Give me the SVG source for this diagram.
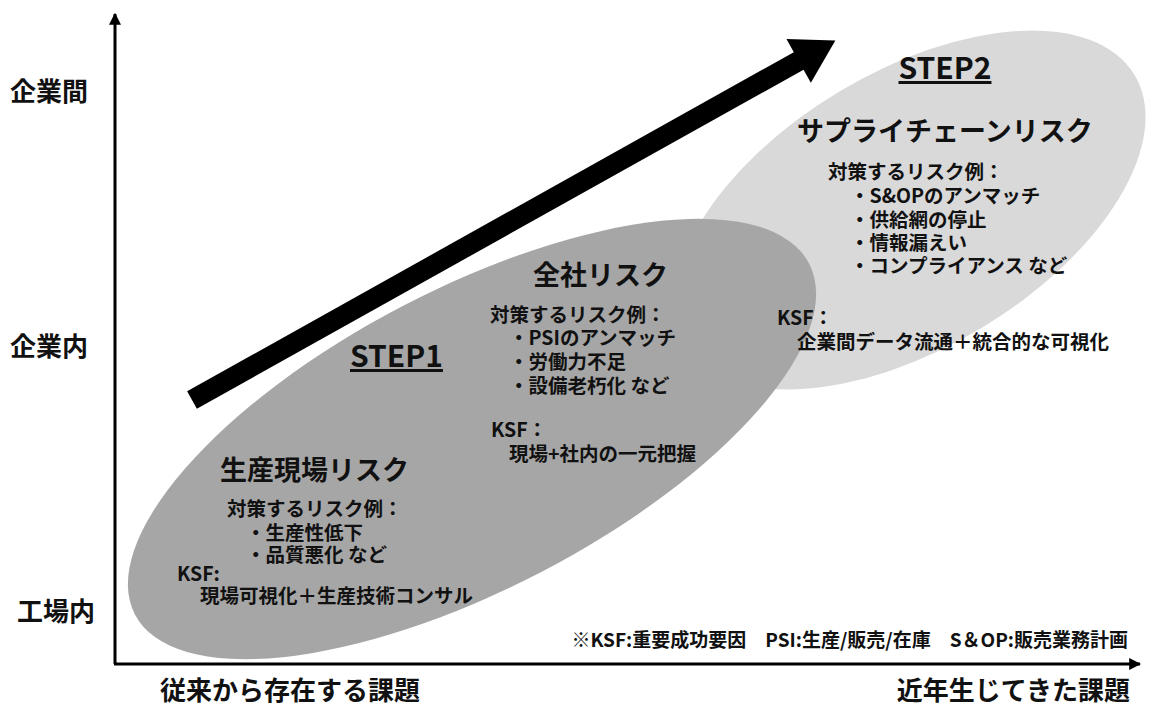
<svg xmlns="http://www.w3.org/2000/svg" width="1150" height="706" viewBox="0 0 1150 706">
<style>
text{font-family:"Noto Sans CJK JP","Noto Sans",sans-serif;fill:#111;font-weight:700}
.ax{font-size:26px}
.title{font-size:27px}
.step{font-size:30px;text-decoration:underline}
.body{font-size:19.5px}
.note{font-size:19px}
.axis{stroke:#000;stroke-width:3;fill:none}
</style>
<defs>
<marker id="ah" viewBox="0 0 10 10" refX="9" refY="5" markerWidth="4" markerHeight="4" orient="auto" markerUnits="strokeWidth">
<path d="M0,0 L10,5 L0,10 z" fill="#000"/>
</marker>
</defs>
<rect width="1150" height="706" fill="#fff"/>

<g id="step2">
<ellipse cx="910" cy="210" rx="262" ry="138" transform="rotate(-31 910 210)" fill="#d9d9d9"/>
</g>
<g id="step1">
<ellipse cx="472" cy="439" rx="380" ry="150" transform="rotate(-27.5 472 439)" fill="#a6a6a6"/>
</g>

<g id="connectors">
<line class="axis" x1="115" y1="664" x2="115" y2="14" marker-end="url(#ah)"/>
<line class="axis" x1="114" y1="664" x2="1140" y2="664" marker-end="url(#ah)"/>
<polygon transform="translate(192 400) rotate(-29.2)" points="0,-10 695,-10 695,-25 737,0 695,25 695,10 0,10" fill="#000"/>
</g>

<g id="axis-labels">
<text class="ax" x="10" y="101">企業間</text>
<text class="ax" x="10" y="356">企業内</text>
<text class="ax" x="17" y="621">工場内</text>
<text class="ax" x="160" y="700" font-size="25">従来から存在する課題</text>
<text class="ax" x="1130" y="700" text-anchor="end">近年生じてきた課題</text>
</g>

<g id="step2-text">
<text class="step" x="945" y="79" text-anchor="middle">STEP2</text>
<text class="title" x="797" y="141">サプライチェーンリスク</text>
<text class="body" x="828" y="179">対策するリスク例：</text>
<text class="body" x="850" y="203">・S&amp;OPのアンマッチ</text>
<text class="body" x="850" y="227">・供給網の停止</text>
<text class="body" x="850" y="250">・情報漏えい</text>
<text class="body" x="850" y="273">・コンプライアンス など</text>
<text class="body" x="777" y="325">KSF：</text>
<text class="body" x="797" y="349">企業間データ流通＋統合的な可視化</text>
</g>

<g id="step1-text">
<text class="title" x="533" y="285">全社リスク</text>
<text class="body" x="490" y="322">対策するリスク例：</text>
<text class="body" x="509" y="345">・PSIのアンマッチ</text>
<text class="body" x="509" y="369">・労働力不足</text>
<text class="body" x="509" y="393">・設備老朽化 など</text>
<text class="body" x="491" y="437">KSF：</text>
<text class="body" x="509" y="461">現場+社内の一元把握</text>
<text class="step" x="350" y="367">STEP1</text>
<text class="title" x="220" y="480">生産現場リスク</text>
<text class="body" x="227" y="516">対策するリスク例：</text>
<text class="body" x="246" y="540">・生産性低下</text>
<text class="body" x="246" y="562">・品質悪化 など</text>
<text class="body" x="177" y="581">KSF:</text>
<text class="body" x="200" y="603">現場可視化＋生産技術コンサル</text>
</g>

<g id="footnote">
<text class="note" x="1128" y="647" text-anchor="end" xml:space="preserve">※KSF:重要成功要因　PSI:生産/販売/在庫　S＆OP:販売業務計画</text>
</g>
</svg>
